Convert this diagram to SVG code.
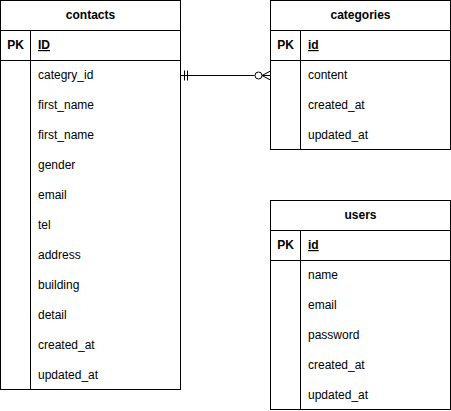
<svg xmlns="http://www.w3.org/2000/svg" width="451" height="411" viewBox="0 0 451 411">
<style>
.box{fill:#fff;stroke:#000;stroke-width:1}
.ln{stroke:#000;stroke-width:1;fill:none}
.t{font-family:Helvetica,"Liberation Sans",Arial,sans-serif;font-size:12px;fill:#000}
.b{font-weight:bold}
.u{text-decoration:underline}
</style>
<rect width="451" height="411" fill="#fff"/>
<g id="contacts">
<rect class="box" x="0.5" y="0.5" width="180" height="389"/>
<line class="ln" x1="0.5" y1="30.5" x2="180.5" y2="30.5"/>
<line class="ln" x1="0.5" y1="60.5" x2="180.5" y2="60.5"/>
<line class="ln" x1="30.5" y1="30.5" x2="30.5" y2="389.5"/>
<text class="t b" x="90.5" y="19" text-anchor="middle">contacts</text>
<text class="t b" x="15.5" y="49" text-anchor="middle">PK</text>
<text class="t b u" x="38" y="49">ID</text>
<text class="t" x="38" y="79">categry_id</text>
<text class="t" x="38" y="109">first_name</text>
<text class="t" x="38" y="139">first_name</text>
<text class="t" x="38" y="169">gender</text>
<text class="t" x="38" y="199">email</text>
<text class="t" x="38" y="229">tel</text>
<text class="t" x="38" y="259">address</text>
<text class="t" x="38" y="289">building</text>
<text class="t" x="38" y="319">detail</text>
<text class="t" x="38" y="349">created_at</text>
<text class="t" x="38" y="379">updated_at</text>
</g>
<g id="categories">
<rect class="box" x="270.5" y="0.5" width="180" height="149"/>
<line class="ln" x1="270.5" y1="30.5" x2="450.5" y2="30.5"/>
<line class="ln" x1="270.5" y1="60.5" x2="450.5" y2="60.5"/>
<line class="ln" x1="300.5" y1="30.5" x2="300.5" y2="149.5"/>
<text class="t b" x="360.5" y="19" text-anchor="middle">categories</text>
<text class="t b" x="285.5" y="49" text-anchor="middle">PK</text>
<text class="t b u" x="308" y="49">id</text>
<text class="t" x="308" y="79">content</text>
<text class="t" x="308" y="109">created_at</text>
<text class="t" x="308" y="139">updated_at</text>
</g>
<g id="users">
<rect class="box" x="270.5" y="200.5" width="180" height="209"/>
<line class="ln" x1="270.5" y1="230.5" x2="450.5" y2="230.5"/>
<line class="ln" x1="270.5" y1="260.5" x2="450.5" y2="260.5"/>
<line class="ln" x1="300.5" y1="230.5" x2="300.5" y2="409.5"/>
<text class="t b" x="360.5" y="219" text-anchor="middle">users</text>
<text class="t b" x="285.5" y="249" text-anchor="middle">PK</text>
<text class="t b u" x="308" y="249">id</text>
<text class="t" x="308" y="279">name</text>
<text class="t" x="308" y="309">email</text>
<text class="t" x="308" y="339">password</text>
<text class="t" x="308" y="369">created_at</text>
<text class="t" x="308" y="399">updated_at</text>
</g>
<g id="connectors">
<line class="ln" x1="180.5" y1="75.5" x2="254.5" y2="75.5"/>
<line class="ln" x1="184.5" y1="70.5" x2="184.5" y2="80.5"/>
<line class="ln" x1="187.5" y1="70.5" x2="187.5" y2="80.5"/>
<circle class="ln" cx="258.5" cy="75.5" r="3.5"/>
<path class="ln" d="M262 75.5 L270.5 75.5 M262 75.5 L270.5 71 M262 75.5 L270.5 80"/>
</g>
</svg>
